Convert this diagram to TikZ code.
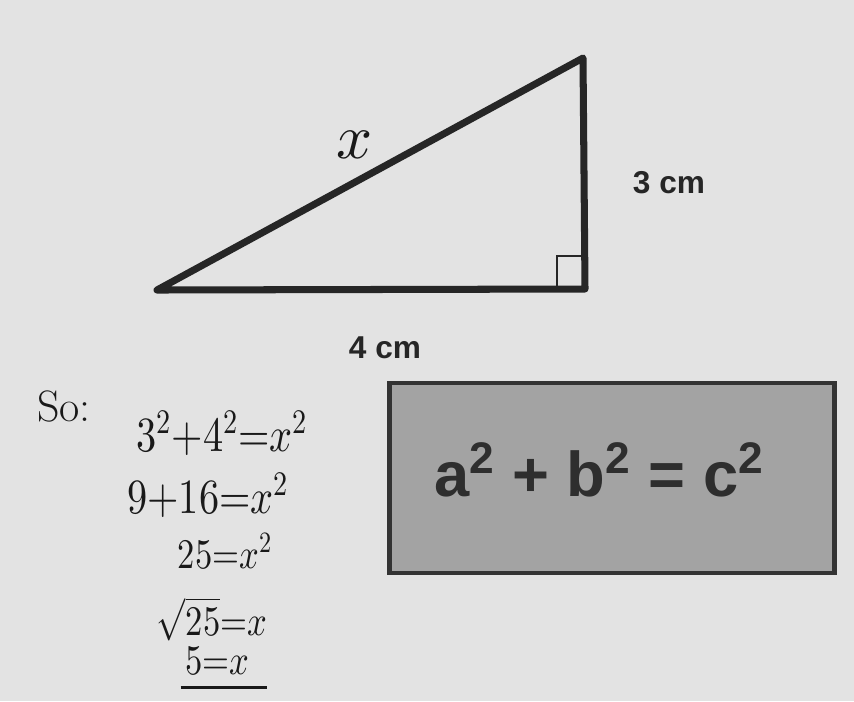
\documentclass[tikz,border=0pt]{standalone}
\usepackage{fontspec}
\usepackage{unicode-math}
\setmathfont{Latin Modern Math}
\setsansfont{Liberation Sans}
\usetikzlibrary{calc}

\newcommand{\hweq}[1]{\scalebox{.82}[1]{$#1$}} % narrow handwritten line

\begin{document}
\begin{tikzpicture}[
  x=0.02cm, y=-0.02cm,
  leg/.style={line width=4pt, draw=black!85, line join=round},
  sq/.style={line width=1.2pt, draw=black!85},
  lbl/.style={font=\fontsize{18}{20}\selectfont\bfseries\sffamily, text=black!85, inner sep=1pt},
  hand/.style={font=\fontsize{28}{32}\selectfont, text=black!90, inner sep=0pt},
  small/.style={hand, font=\fontsize{24}{28}\selectfont},
  uline/.style={line width=1.6pt, draw=black!90},
  frame/.style={draw=black!80, line width=2.4pt, fill=black!36, minimum width=8.9cm, minimum height=3.8cm},
  law/.style={font=\fontsize{36}{40}\selectfont\bfseries\sffamily, text=black!82, inner sep=1pt},
]
%% ============ paper ============
\fill[black!11] (0,0) rectangle (854,701);
\useasboundingbox (0,0) rectangle (854,701);

%% ============ triangle ============
\coordinate (A) at (157,290);
\coordinate (B) at (585,289);
\coordinate (C) at (583,58);
\draw[leg] (A) -- (B) -- (C) -- cycle;
\draw[sq] ($(B)+(-28,0)$) |- ($(B)+(0,-33)$);

\node[hand, font=\fontsize{36}{40}\selectfont] (hyp) at (355,145) {$x$};
\node[lbl] (side) at (669,183) {3 cm};
\node[lbl] (base) at (385,348) {4 cm};

%% ============ working ============
\node[hand, font=\fontsize{25}{28}\selectfont] (so) at (64,406) {So:};
\node[hand] (e1) at (222,433) {\hweq{3^2{+}4^2{=}x^2}};
\node[hand] (e2) at (208,495) {\hweq{9{+}16{=}x^2}};
\node[small] (e3) at (225,551) {\hweq{25{=}x^2}};
\node[small] (e4) at (212,619) {\hweq{\sqrt{25}{=}x}};
\node[small] (e5) at (217,661) {\hweq{5{=}x}};
\draw[uline] ($(e5.south west)+(-4,12)$) -- ($(e5.south east)+(18,12)$);

%% ============ formula box ============
\node[frame] (box) at (612,478) {};
\node[law] (pyth) at (599,470) {a\textsuperscript{2} + b\textsuperscript{2} = c\textsuperscript{2}};

\end{tikzpicture}
\end{document}
